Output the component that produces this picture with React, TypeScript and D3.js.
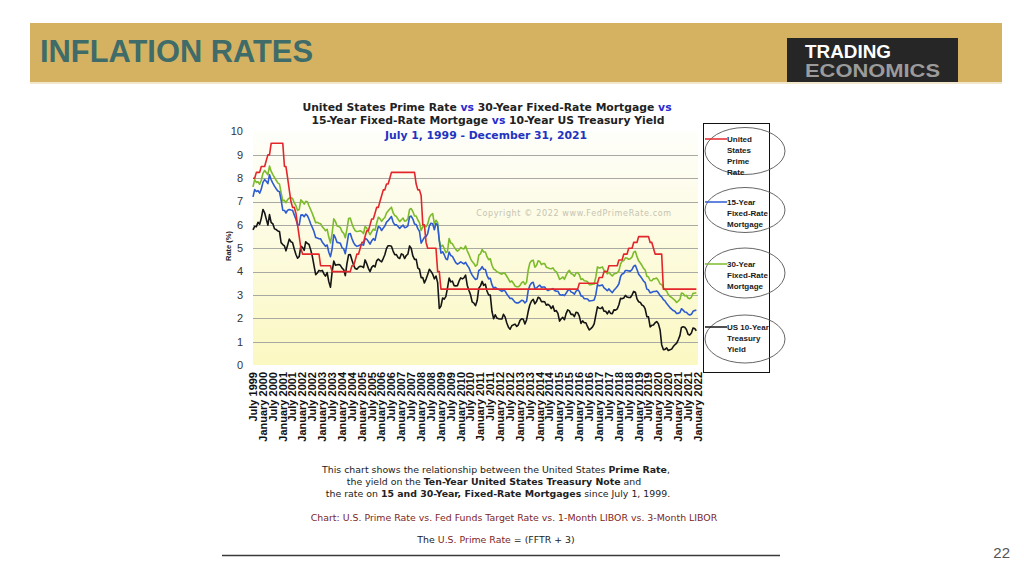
import React from "react";
import * as d3 from "d3";

// Monthly values, July 1999 .. December 2021 (first of each month)
const primeRate = [
  8.00, 8.00, 8.25, 8.25, 8.25, 8.50,
  8.50, 8.50, 8.75, 9.00, 9.00, 9.50, 9.50, 9.50, 9.50, 9.50, 9.50, 9.50,
  9.50, 8.50, 8.50, 8.00, 7.50, 7.00, 6.75, 6.75, 6.50, 6.00, 5.50, 5.00,
  4.75, 4.75, 4.75, 4.75, 4.75, 4.75, 4.75, 4.75, 4.75, 4.75, 4.75, 4.25,
  4.25, 4.25, 4.25, 4.25, 4.25, 4.25, 4.00, 4.00, 4.00, 4.00, 4.00, 4.00,
  4.00, 4.00, 4.00, 4.00, 4.00, 4.00, 4.25, 4.25, 4.50, 4.75, 4.75, 5.00,
  5.25, 5.25, 5.50, 5.75, 5.75, 6.00, 6.25, 6.25, 6.50, 6.75, 6.75, 7.00,
  7.25, 7.50, 7.50, 7.75, 7.75, 8.00, 8.25, 8.25, 8.25, 8.25, 8.25, 8.25,
  8.25, 8.25, 8.25, 8.25, 8.25, 8.25, 8.25, 8.25, 8.25, 7.75, 7.50, 7.50,
  7.25, 6.00, 6.00, 5.25, 5.00, 5.00, 5.00, 5.00, 5.00, 5.00, 4.00, 4.00,
  3.25, 3.25, 3.25, 3.25, 3.25, 3.25, 3.25, 3.25, 3.25, 3.25, 3.25, 3.25,
  3.25, 3.25, 3.25, 3.25, 3.25, 3.25, 3.25, 3.25, 3.25, 3.25, 3.25, 3.25,
  3.25, 3.25, 3.25, 3.25, 3.25, 3.25, 3.25, 3.25, 3.25, 3.25, 3.25, 3.25,
  3.25, 3.25, 3.25, 3.25, 3.25, 3.25, 3.25, 3.25, 3.25, 3.25, 3.25, 3.25,
  3.25, 3.25, 3.25, 3.25, 3.25, 3.25, 3.25, 3.25, 3.25, 3.25, 3.25, 3.25,
  3.25, 3.25, 3.25, 3.25, 3.25, 3.25, 3.25, 3.25, 3.25, 3.25, 3.25, 3.25,
  3.25, 3.25, 3.25, 3.25, 3.25, 3.25, 3.25, 3.25, 3.25, 3.25, 3.25, 3.25,
  3.50, 3.50, 3.50, 3.50, 3.50, 3.50, 3.50, 3.50, 3.50, 3.50, 3.50, 3.50,
  3.75, 3.75, 3.75, 4.00, 4.00, 4.00, 4.25, 4.25, 4.25, 4.25, 4.25, 4.25,
  4.50, 4.50, 4.50, 4.75, 4.75, 4.75, 5.00, 5.00, 5.00, 5.25, 5.25, 5.25,
  5.50, 5.50, 5.50, 5.50, 5.50, 5.50, 5.50, 5.25, 5.25, 5.00, 4.75, 4.75,
  4.75, 4.75, 4.75, 3.25, 3.25, 3.25, 3.25, 3.25, 3.25, 3.25, 3.25, 3.25,
  3.25, 3.25, 3.25, 3.25, 3.25, 3.25, 3.25, 3.25, 3.25, 3.25, 3.25, 3.25,
];

const mortgage30 = [
  7.63, 7.94, 7.82, 7.85, 7.74, 7.91,
  8.21, 8.33, 8.24, 8.15, 8.52, 8.29, 8.15, 8.03, 7.91, 7.80, 7.75, 7.38,
  7.03, 7.05, 6.95, 7.08, 7.15, 7.16, 7.13, 6.95, 6.82, 6.62, 6.66, 7.07,
  7.00, 6.89, 7.01, 6.99, 6.81, 6.65, 6.49, 6.29, 6.09, 6.11, 6.07, 6.05,
  5.92, 5.84, 5.75, 5.81, 5.48, 5.23, 5.63, 6.26, 6.15, 5.95, 5.93, 5.88,
  5.71, 5.64, 5.45, 5.83, 6.27, 6.29, 6.06, 5.87, 5.75, 5.72, 5.73, 5.75,
  5.71, 5.63, 5.93, 5.86, 5.72, 5.58, 5.70, 5.82, 5.77, 6.07, 6.33, 6.27,
  6.15, 6.25, 6.32, 6.51, 6.60, 6.68, 6.76, 6.52, 6.40, 6.36, 6.24, 6.14,
  6.22, 6.29, 6.16, 6.18, 6.26, 6.66, 6.70, 6.57, 6.38, 6.38, 6.21, 6.10,
  5.76, 5.92, 5.97, 5.92, 6.04, 6.32, 6.43, 6.48, 6.04, 6.20, 6.09, 5.33,
  5.06, 5.13, 5.00, 4.81, 4.86, 5.42, 5.22, 5.19, 5.06, 4.95, 4.88, 4.93,
  5.03, 4.99, 4.97, 5.10, 4.89, 4.74, 4.56, 4.43, 4.35, 4.23, 4.30, 4.71,
  4.76, 4.95, 4.84, 4.84, 4.64, 4.51, 4.55, 4.27, 4.11, 4.07, 3.99, 3.96,
  3.92, 3.89, 3.95, 3.91, 3.80, 3.68, 3.55, 3.60, 3.50, 3.38, 3.35, 3.35,
  3.41, 3.53, 3.57, 3.45, 3.54, 4.07, 4.37, 4.46, 4.49, 4.19, 4.26, 4.46,
  4.43, 4.30, 4.34, 4.34, 4.19, 4.16, 4.13, 4.12, 4.16, 4.04, 4.00, 3.86,
  3.67, 3.71, 3.77, 3.67, 3.84, 3.98, 4.05, 3.91, 3.89, 3.80, 3.94, 3.96,
  3.87, 3.66, 3.69, 3.61, 3.60, 3.57, 3.44, 3.44, 3.46, 3.47, 3.77, 4.20,
  4.15, 4.17, 4.20, 4.05, 4.01, 3.90, 3.97, 3.88, 3.81, 3.90, 3.92, 3.95,
  4.03, 4.33, 4.44, 4.47, 4.59, 4.57, 4.53, 4.55, 4.63, 4.83, 4.87, 4.64,
  4.46, 4.37, 4.27, 4.14, 4.07, 3.80, 3.77, 3.62, 3.61, 3.69, 3.70, 3.72,
  3.62, 3.47, 3.45, 3.31, 3.23, 3.16, 3.02, 2.94, 2.89, 2.83, 2.77, 2.68,
  2.74, 2.81, 3.08, 3.06, 2.96, 2.98, 2.87, 2.84, 2.90, 3.07, 3.07, 3.10,
];

const mortgage15 = [
  7.20, 7.51, 7.43, 7.47, 7.36, 7.53,
  7.82, 7.94, 7.87, 7.77, 8.15, 7.93, 7.79, 7.66, 7.55, 7.45, 7.42, 7.07,
  6.63, 6.62, 6.51, 6.63, 6.66, 6.64, 6.63, 6.43, 6.24, 5.99, 6.00, 6.42,
  6.43, 6.35, 6.46, 6.40, 6.24, 6.04, 5.89, 5.71, 5.46, 5.44, 5.41, 5.40,
  5.26, 5.17, 5.08, 5.14, 4.83, 4.64, 4.97, 5.58, 5.44, 5.25, 5.24, 5.21,
  5.02, 4.97, 4.77, 5.18, 5.61, 5.63, 5.42, 5.24, 5.13, 5.08, 5.11, 5.14,
  5.17, 5.13, 5.42, 5.39, 5.29, 5.18, 5.32, 5.41, 5.34, 5.66, 5.93, 5.89,
  5.76, 5.87, 5.95, 6.12, 6.18, 6.27, 6.36, 6.12, 6.00, 6.01, 5.93, 5.85,
  5.93, 5.99, 5.88, 5.90, 5.96, 6.34, 6.38, 6.25, 6.04, 6.02, 5.84, 5.73,
  5.22, 5.35, 5.47, 5.50, 5.63, 5.96, 6.07, 6.05, 5.79, 6.06, 5.99, 5.33,
  4.79, 4.85, 4.73, 4.55, 4.51, 4.84, 4.69, 4.65, 4.51, 4.38, 4.32, 4.36,
  4.42, 4.37, 4.33, 4.40, 4.27, 4.17, 3.99, 3.85, 3.75, 3.66, 3.69, 4.05,
  4.09, 4.21, 4.10, 4.09, 3.84, 3.69, 3.71, 3.44, 3.28, 3.33, 3.27, 3.24,
  3.20, 3.15, 3.21, 3.16, 3.04, 2.94, 2.85, 2.86, 2.77, 2.69, 2.66, 2.66,
  2.71, 2.77, 2.75, 2.66, 2.73, 3.20, 3.41, 3.51, 3.54, 3.29, 3.30, 3.37,
  3.42, 3.32, 3.34, 3.34, 3.24, 3.19, 3.22, 3.24, 3.27, 3.19, 3.16, 3.16,
  3.02, 2.99, 3.01, 2.97, 3.07, 3.19, 3.24, 3.13, 3.10, 3.03, 3.16, 3.23,
  3.15, 2.96, 2.94, 2.84, 2.84, 2.83, 2.74, 2.75, 2.76, 2.78, 3.02, 3.44,
  3.39, 3.41, 3.43, 3.30, 3.25, 3.18, 3.26, 3.17, 3.10, 3.20, 3.28, 3.36,
  3.48, 3.79, 3.90, 3.92, 4.05, 4.05, 4.03, 4.02, 4.09, 4.23, 4.27, 4.09,
  3.89, 3.80, 3.71, 3.60, 3.53, 3.25, 3.22, 3.09, 3.11, 3.15, 3.15, 3.17,
  3.09, 2.97, 2.92, 2.80, 2.75, 2.63, 2.55, 2.46, 2.39, 2.33, 2.30, 2.21,
  2.21, 2.25, 2.41, 2.35, 2.27, 2.26, 2.18, 2.14, 2.17, 2.30, 2.33, 2.35,
];

const treasury10 = [
  5.79, 5.94, 5.92, 6.11, 6.03, 6.28,
  6.66, 6.52, 6.26, 5.99, 6.44, 6.10, 6.05, 5.83, 5.80, 5.74, 5.72, 5.24,
  5.16, 5.10, 4.89, 5.14, 5.39, 5.28, 5.24, 4.97, 4.73, 4.57, 4.65, 5.09,
  5.04, 4.91, 5.28, 5.21, 5.16, 4.93, 4.65, 4.26, 3.87, 3.94, 4.05, 4.03,
  4.05, 3.90, 3.81, 3.96, 3.57, 3.33, 3.98, 4.45, 4.27, 4.29, 4.30, 4.27,
  4.15, 4.08, 3.83, 4.35, 4.72, 4.73, 4.50, 4.28, 4.13, 4.10, 4.19, 4.23,
  4.22, 4.17, 4.50, 4.34, 4.14, 4.00, 4.18, 4.26, 4.20, 4.46, 4.54, 4.47,
  4.42, 4.57, 4.72, 4.99, 5.11, 5.11, 5.09, 4.88, 4.72, 4.73, 4.60, 4.56,
  4.76, 4.72, 4.56, 4.69, 4.75, 5.10, 5.00, 4.67, 4.52, 4.53, 4.15, 4.10,
  3.74, 3.74, 3.51, 3.68, 3.88, 4.10, 4.01, 3.89, 3.69, 3.81, 3.53, 2.42,
  2.52, 2.87, 2.82, 2.93, 3.29, 3.72, 3.56, 3.59, 3.40, 3.39, 3.40, 3.59,
  3.73, 3.69, 3.73, 3.85, 3.42, 3.20, 3.01, 2.70, 2.65, 2.54, 2.76, 3.29,
  3.39, 3.58, 3.41, 3.46, 3.17, 3.00, 3.00, 2.30, 1.98, 2.15, 2.01, 1.98,
  1.97, 1.97, 2.17, 2.05, 1.80, 1.62, 1.53, 1.68, 1.72, 1.75, 1.65, 1.72,
  1.91, 1.98, 1.96, 1.76, 1.93, 2.30, 2.58, 2.74, 2.81, 2.62, 2.72, 2.90,
  2.86, 2.71, 2.72, 2.71, 2.56, 2.60, 2.54, 2.42, 2.53, 2.30, 2.33, 2.21,
  1.88, 1.98, 2.04, 1.94, 2.20, 2.36, 2.32, 2.17, 2.17, 2.07, 2.26, 2.24,
  2.09, 1.78, 1.89, 1.81, 1.81, 1.64, 1.50, 1.56, 1.63, 1.76, 2.14, 2.49,
  2.43, 2.42, 2.48, 2.30, 2.30, 2.19, 2.32, 2.21, 2.20, 2.36, 2.35, 2.40,
  2.58, 2.86, 2.84, 2.87, 2.98, 2.91, 2.89, 2.89, 3.00, 3.15, 3.12, 2.83,
  2.71, 2.68, 2.57, 2.53, 2.40, 2.07, 2.06, 1.63, 1.70, 1.71, 1.81, 1.86,
  1.76, 1.50, 0.87, 0.66, 0.67, 0.73, 0.62, 0.65, 0.68, 0.79, 0.87, 0.93,
  1.08, 1.26, 1.61, 1.64, 1.62, 1.52, 1.32, 1.28, 1.37, 1.58, 1.56, 1.47,
];

const yTicks = [0, 1, 2, 3, 4, 5, 6, 7, 8, 9, 10];
const gridValues = [1, 2, 3, 4, 5, 6, 7, 8, 9];

const xTickLabels = [
  "July 1999", "January 2000", "July 2000", "January 2001", "July 2001",
  "January 2002", "July 2002", "January 2003", "July 2003", "January 2004",
  "July 2004", "January 2005", "July 2005", "January 2006", "July 2006",
  "January 2007", "July 2007", "January 2008", "July 2008", "January 2009",
  "July 2009", "January 2010", "July 2010", "January 2011", "July 2011",
  "January 2012", "July 2012", "January 2013", "July 2013", "January 2014",
  "July 2014", "January 2015", "July 2015", "January 2016", "July 2016",
  "January 2017", "July 2017", "January 2018", "July 2018", "January 2019",
  "July 2019", "January 2020", "July 2020", "January 2021", "July 2021",
  "January 2022",
];

const legendItems = [
  { color: "#e3262b", lines: ["United", "States", "Prime", "Rate"], y: 139, cy: 151, ry: 23.5 },
  { color: "#2d5bd0", lines: ["15-Year", "Fixed-Rate", "Mortgage"], y: 202, cy: 210, ry: 22.5 },
  { color: "#7cbb2c", lines: ["30-Year", "Fixed-Rate", "Mortgage"], y: 264, cy: 273, ry: 25 },
  { color: "#151515", lines: ["US 10-Year", "Treasury", "Yield"], y: 327, cy: 339, ry: 24 },
];

const PLOT = { left: 253, right: 698, top: 131.5, bottom: 365 };
const monthDate = (i: number) => new Date(1999, 6 + i, 1);

export default function App() {
  const x = d3
    .scaleTime()
    .domain([new Date(1999, 6, 1), new Date(2022, 0, 1)])
    .range([PLOT.left, PLOT.right]);
  const y = d3.scaleLinear().domain([0, 10]).range([PLOT.bottom, PLOT.top]);

  const line = d3
    .line<number>()
    .x((_, i) => x(monthDate(i)))
    .y((d) => y(d));

  const tickDates = xTickLabels.map((_, i) => new Date(1999, 6 + i * 6, 1));

  const series = [
    { data: treasury10, color: "#151515" },
    { data: mortgage30, color: "#7cbb2c" },
    { data: mortgage15, color: "#2d5bd0" },
    { data: primeRate, color: "#e3262b" },
  ];

  const verdana = "'DejaVu Sans', Verdana, sans-serif";
  const arial = "'Liberation Sans', Arial, sans-serif";

  return (
    <svg
      width={1024}
      height={576}
      style={{ position: "absolute", left: 0, top: 0, display: "block", background: "#ffffff" }}
    >
      <defs>
        <linearGradient id="plotBg" x1="0" y1="0" x2="0" y2="1">
          <stop offset="0%" stopColor="#fefefa" />
          <stop offset="100%" stopColor="#fbf8c2" />
        </linearGradient>
      </defs>

      {/* Header band */}
      <rect x={30} y={23} width={972} height={59} fill="#d4b262" />
      <rect x={30} y={82} width={972} height={2} fill="#f1e7cc" />
      <text
        x={40}
        y={62}
        fontFamily={arial}
        fontWeight="bold"
        fontSize={31}
        fill="#3f6b69"
        textLength={273}
        lengthAdjust="spacingAndGlyphs"
      >
        INFLATION RATES
      </text>
      <rect x={787} y={38} width={171} height={44} fill="#262626" />
      <text x={805} y={58} fontFamily={arial} fontWeight="bold" fontSize={18} fill="#ffffff" textLength={86} lengthAdjust="spacingAndGlyphs">
        TRADING
      </text>
      <text x={805} y={77} fontFamily={arial} fontWeight="bold" fontSize={19} fill="#9b9b9b" textLength={135} lengthAdjust="spacingAndGlyphs">
        ECONOMICS
      </text>

      {/* Plot background */}
      <rect
        x={PLOT.left}
        y={PLOT.top}
        width={PLOT.right - PLOT.left}
        height={PLOT.bottom - PLOT.top}
        fill="url(#plotBg)"
      />
      {gridValues.map((v) => (
        <line
          key={v}
          x1={PLOT.left}
          x2={PLOT.right}
          y1={Math.round(y(v)) + 0.5}
          y2={Math.round(y(v)) + 0.5}
          stroke="#a9a9a4"
          strokeWidth={1}
        />
      ))}

      {/* Chart title */}
      <g fontFamily={verdana} fontWeight="bold" fontSize={10.8} textAnchor="middle" fill="#222">
        <text x={487} y={111}>
          United States Prime Rate <tspan fill="#2a2ad0">vs</tspan> 30-Year Fixed-Rate Mortgage{" "}
          <tspan fill="#2a2ad0">vs</tspan>
        </text>
        <text x={488} y={124}>
          15-Year Fixed-Rate Mortgage <tspan fill="#2a2ad0">vs</tspan> 10-Year US Treasury Yield
        </text>
        <text x={486} y={139} fill="#2233c0">
          July 1, 1999 - December 31, 2021
        </text>
      </g>

      {/* Copyright watermark */}
      <text
        x={574}
        y={216}
        textAnchor="middle"
        fontFamily={verdana}
        fontSize={8}
        letterSpacing={0.65}
        fill="#c6c3b2"
      >
        Copyright © 2022 www.FedPrimeRate.com
      </text>

      {/* Y axis labels */}
      <g fontFamily={arial} fontSize={11} fill="#333" textAnchor="end">
        {yTicks.map((t) => (
          <text key={t} x={243} y={y(t)} dy="0.35em">
            {t}
          </text>
        ))}
      </g>
      <text
        transform={`translate(231,246) rotate(-90)`}
        textAnchor="middle"
        fontFamily={arial}
        fontWeight="bold"
        fontSize={7.5}
        fill="#222"
      >
        Rate (%)
      </text>

      {/* Series */}
      {series.map((s) => (
        <path
          key={s.color}
          d={line(s.data) || ""}
          fill="none"
          stroke={s.color}
          strokeWidth={1.6}
          strokeLinejoin="round"
        />
      ))}

      {/* X axis labels */}
      <g fontFamily={arial} fontWeight="bold" fontSize={11} fill="#111" textAnchor="end">
        {xTickLabels.map((lab, i) => (
          <text key={lab} transform={`translate(${x(tickDates[i])},372) rotate(-90)`} dy="0.35em">
            {lab}
          </text>
        ))}
      </g>

      {/* Legend */}
      <rect x={703.5} y={123.5} width={66} height={249} fill="#ffffff" stroke="#111" strokeWidth={1} />
      {legendItems.map((it) => (
        <g key={it.color}>
          <ellipse cx={745} cy={it.cy} rx={40} ry={it.ry} fill="none" stroke="#555" strokeWidth={0.9} />
          <line x1={705} x2={727} y1={it.y} y2={it.y} stroke={it.color} strokeWidth={1.5} />
          {it.lines.map((l, j) => (
            <text
              key={l}
              x={727}
              y={it.y + j * 11}
              dy="0.35em"
              fontFamily={arial}
              fontWeight="bold"
              fontSize={8}
              fill="#1a1a1a"
            >
              {l}
            </text>
          ))}
        </g>
      ))}

      {/* Description text */}
      <g fontFamily={verdana} fontSize={9.4} textAnchor="middle" fill="#222">
        <text x={496} y={473}>
          This chart shows the relationship between the United States <tspan fontWeight="bold">Prime Rate</tspan>,
        </text>
        <text x={494} y={485}>
          the yield on the <tspan fontWeight="bold">Ten-Year United States Treasury Note</tspan> and
        </text>
        <text x={498} y={497}>
          the rate on <tspan fontWeight="bold">15 and 30-Year, Fixed-Rate Mortgages</tspan> since July 1, 1999.
        </text>
        <text x={514} y={521} fill="#7d1f1f">
          Chart: U.S. Prime Rate vs. Fed Funds Target Rate vs. 1-Month LIBOR vs. 3-Month LIBOR
        </text>
        <text x={496} y={543}>
          The <tspan fill="#7d1f1f">U.S. Prime Rate</tspan> = (FFTR + 3)
        </text>
      </g>
      <line x1={222} x2={780} y1={555.5} y2={555.5} stroke="#3a3a3a" strokeWidth={1.5} />

      {/* Page number */}
      <text x={1010} y={558} textAnchor="end" fontFamily={arial} fontSize={15} fill="#555">
        22
      </text>
    </svg>
  );
}
